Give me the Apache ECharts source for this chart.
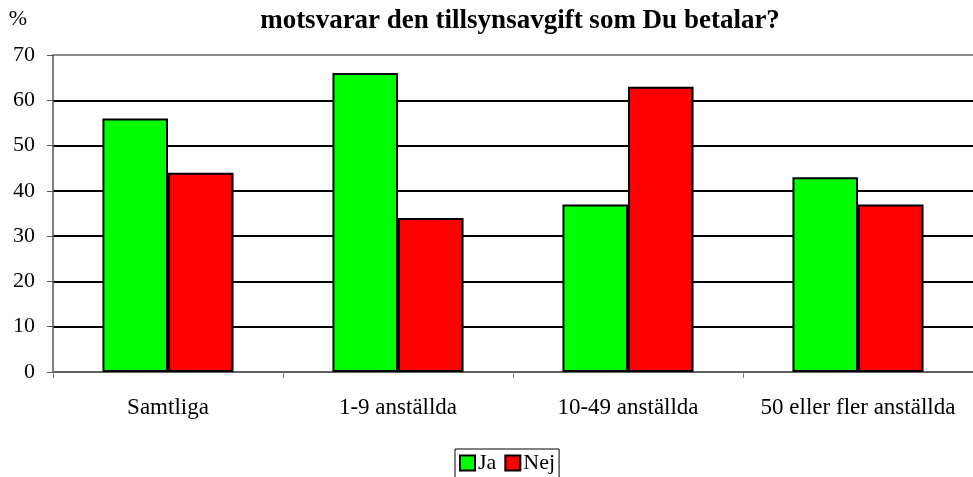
<!DOCTYPE html>
<html>
<head>
<meta charset="utf-8">
<script src="https://cdn.jsdelivr.net/npm/echarts@6/dist/echarts.min.js"></script>
<style>
  html, body { margin: 0; padding: 0; background: #fff; }
  #chart { width: 973px; height: 477px; }
</style>
</head>
<body>
<div id="chart"></div>
<script>
  // data
  const categories = ['Samtliga', '1-9 anställda', '10-49 anställda', '50 eller fler anställda'];
  const jaValues = [56, 66, 37, 43];
  const nejValues = [44, 34, 63, 37];
  const yTicks = [0, 10, 20, 30, 40, 50, 60, 70];

  const font = 'Liberation Serif, Times New Roman, serif';
  // grid lines black, the top one grey like the plot border
  const gridColors = yTicks.map((v, i) => (i === yTicks.length - 1 ? '#8c8c8c' : '#000'));

  let myChart = echarts.init(document.getElementById('chart'));
  myChart.setOption({
    animation: false,
    title: {
      text: 'motsvarar den tillsynsavgift som Du betalar?',
      left: 515,
      textAlign: 'center',
      top: 3,
      textStyle: { fontFamily: font, fontSize: 27, fontWeight: 'bold', color: '#000' }
    },
    legend: {
      data: ['Ja', 'Nej'],
      icon: 'rect',
      left: 455,
      top: 449,
      itemWidth: 15,
      itemHeight: 15,
      itemGap: 8,
      padding: [3, 4, 6, 4],
      borderColor: '#000',
      borderWidth: 1,
      textStyle: { fontFamily: font, fontSize: 22, color: '#000', padding: [0, 0, 0, -2] }
    },
    grid: { left: 53, right: 0, top: 55, bottom: 105, containLabel: false },
    xAxis: {
      type: 'category',
      data: categories,
      axisLine: { lineStyle: { color: '#808080', width: 1.5 } },
      axisTick: { show: true, length: 6, lineStyle: { color: '#808080' } },
      axisLabel: { fontFamily: font, fontSize: 23, color: '#000', margin: 24, interval: 0 }
    },
    yAxis: {
      type: 'value',
      name: '%',
      nameLocation: 'end',
      nameGap: 25,
      nameTextStyle: { fontFamily: font, fontSize: 22, color: '#000', align: 'right', padding: [0, 26, 0, 0] },
      min: yTicks[0],
      max: yTicks[yTicks.length - 1],
      interval: 10,
      axisLine: { show: true, lineStyle: { color: '#555', width: 1.5 } },
      axisTick: { show: true, length: 6, lineStyle: { color: '#555' } },
      axisLabel: { fontFamily: font, fontSize: 22, color: '#000', margin: 18 },
      splitLine: { lineStyle: { color: gridColors, width: 2 } }
    },
    series: [
      {
        name: 'Ja',
        type: 'bar',
        data: jaValues,
        barGap: '0%',
        barCategoryGap: '43%',
        itemStyle: { color: '#00ff00', borderColor: '#000', borderWidth: 2 }
      },
      {
        name: 'Nej',
        type: 'bar',
        data: nejValues,
        itemStyle: { color: '#ff0000', borderColor: '#000', borderWidth: 2 }
      }
    ]
  });
</script>
</body>
</html>
